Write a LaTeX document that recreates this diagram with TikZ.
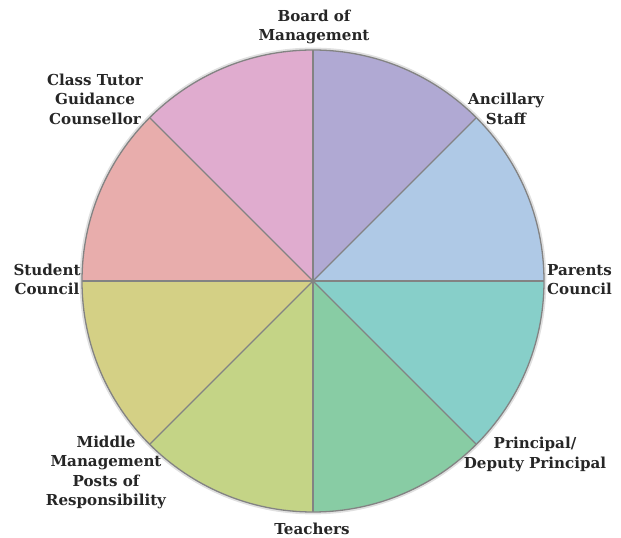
\documentclass[tikz,border=0pt]{standalone}
\usepackage{fontspec}
\setmainfont{DejaVu Serif}
\definecolor{sA}{HTML}{AFC9E6}
\definecolor{sB}{HTML}{B0A9D3}
\definecolor{sC}{HTML}{E0ACCF}
\definecolor{sD}{HTML}{E8ADAC}
\definecolor{sE}{HTML}{D4D085}
\definecolor{sF}{HTML}{C4D486}
\definecolor{sG}{HTML}{88CCA4}
\definecolor{sH}{HTML}{87CFC9}
\definecolor{rim}{HTML}{838383}
\definecolor{ink}{HTML}{262626}
\tikzset{
  lbl/.style={font=\bfseries\fontsize{15.1}{19.6}\selectfont, text=ink, inner sep=0pt, align=center},
  spoke/.style={draw=rim, line width=1.2pt},
}
\begin{document}
\begin{tikzpicture}[x=1pt,y=1pt]
\useasboundingbox (0,0) rectangle (621,538);
\coordinate (c) at (313,257);
\def\R{231}
\foreach \a/\col in {0/sA,45/sB,90/sC,135/sD,180/sE,225/sF,270/sG,315/sH}{
  \fill[\col] (c) -- ++(\a:\R) arc[start angle=\a, end angle=\a+45, radius=\R] -- cycle;
}
\foreach \a in {0,45,...,315}{
  \draw[spoke] (c) -- ++(\a:\R);
}
\draw[draw=black!12, line width=2.4pt] (c) circle[radius=\R+1.2];
\draw[draw=rim, line width=1.3pt] (c) circle[radius=\R];
\node[lbl] (board) at (314,511) {Board of\\Management};
\node[lbl] (tutor) at (95,439) {Class Tutor\\Guidance\\Counsellor};
\node[lbl] (ancillary) at (506,429) {Ancillary\\Staff};
\node[lbl] (student) at (47,258.5) {Student\\Council};
\node[lbl, anchor=west, align=left] (parents) at (547,258.5) {Parents\\Council};
\node[lbl] (middle) at (106,65.5) {Middle\\Management\\Posts of\\Responsibility};
\node[lbl] (principal) at (535,83.5) {Principal/\\Deputy Principal};
\node[lbl] (teachers) at (312,9) {Teachers};
\end{tikzpicture}
\end{document}
